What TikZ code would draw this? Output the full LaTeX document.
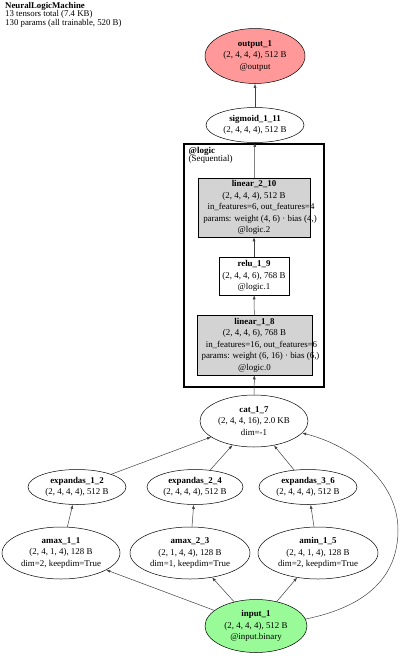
\documentclass[tikz,border=0pt]{standalone}
\usepackage{fontspec}
\setmainfont{Liberation Serif}
\usetikzlibrary{shapes.geometric,arrows.meta}
\definecolor{outred}{HTML}{FF9999}
\definecolor{ingreen}{HTML}{98FB98}
\definecolor{boxgray}{HTML}{D3D3D3}
\newcommand{\longline}[2]{\makebox[0pt][c]{\kern#1pt #2}}
\begin{document}
\begin{tikzpicture}[x=1pt,y=-1pt,
 nfont/.style={font=\fontsize{8.9}{11.5}\selectfont},
 ell/.style={ellipse,draw=black,line width=0.5pt,inner sep=0pt,align=center,nfont},
 boxn/.style={rectangle,draw=black,line width=0.5pt,inner sep=0pt,align=center,nfont},
 edge/.style={draw=black!75,line width=0.5pt,-{Latex[length=4pt,width=3pt]}},
]
\useasboundingbox (0,0) rectangle (400,656);
\node[anchor=north west,align=left,inner sep=0pt,font=\fontsize{8.8}{8.5}\selectfont] (title) at (5,2)
 {\textbf{NeuralLogicMachine}\\13 tensors total (7.4 KB)\\130 params (all trainable, 520 B)};

\node[draw=black,line width=2.5pt,minimum width=140pt,minimum height=243pt,inner sep=0pt] (cl) at (254,265.5) {};
\node[anchor=north west,align=left,inner sep=0pt,font=\fontsize{9}{8.5}\selectfont] (cllab) at (188.5,147)
 {\textbf{@logic}\\(Sequential)};

\node[ell,fill=outred,minimum width=100pt,minimum height=55pt] (out) at (255,56)
 {\textbf{output\_1}\\(2, 4, 4, 4), 512 B\\@output};
\node[ell,minimum width=98pt,minimum height=35pt] (sig) at (255,125)
 {\textbf{sigmoid\_1\_11}\\(2, 4, 4, 4), 512 B};
\node[boxn,fill=boxgray,minimum width=112pt,minimum height=59pt] (lin2) at (254,207.5)
 {\textbf{linear\_2\_10}\\(2, 4, 4, 4), 512 B\\\longline{14}{in\_features=6, out\_features=4}\\\longline{12}{params: weight (4, 6) · bias (4,)}\\@logic.2};
\node[boxn,minimum width=70pt,minimum height=38pt] (relu) at (254,276)
 {\textbf{relu\_1\_9}\\(2, 4, 4, 6), 768 B\\@logic.1};
\node[boxn,fill=boxgray,minimum width=115pt,minimum height=60pt] (lin1) at (254.5,345)
 {\textbf{linear\_1\_8}\\(2, 4, 4, 6), 768 B\\\longline{14}{in\_features=16, out\_features=6}\\\longline{12}{params: weight (6, 16) · bias (6,)}\\@logic.0};
\node[ell,minimum width=108pt,minimum height=52pt] (cat) at (254,421)
 {\textbf{cat\_1\_7}\\(2, 4, 4, 16), 2.0 KB\\dim=-1};
\node[ell,minimum width=98pt,minimum height=35pt] (exp1) at (77,487)
 {\textbf{expandas\_1\_2}\\(2, 4, 4, 4), 512 B};
\node[ell,minimum width=96pt,minimum height=35pt] (exp2) at (195,487)
 {\textbf{expandas\_2\_4}\\(2, 4, 4, 4), 512 B};
\node[ell,minimum width=98pt,minimum height=35pt] (exp3) at (308,487)
 {\textbf{expandas\_3\_6}\\(2, 4, 4, 4), 512 B};
\node[ell,minimum width=118pt,minimum height=52pt] (amax1) at (61,553)
 {\textbf{amax\_1\_1}\\(2, 4, 1, 4), 128 B\\dim=2, keepdim=True};
\node[ell,minimum width=120pt,minimum height=52pt] (amax2) at (190,553)
 {\textbf{amax\_2\_3}\\(2, 1, 4, 4), 128 B\\dim=1, keepdim=True};
\node[ell,minimum width=120pt,minimum height=52pt] (amin) at (318,553)
 {\textbf{amin\_1\_5}\\(2, 4, 1, 4), 128 B\\dim=2, keepdim=True};
\node[ell,fill=ingreen,minimum width=102pt,minimum height=53pt] (in) at (256,626)
 {\textbf{input\_1}\\(2, 4, 4, 4), 512 B\\@input.binary};

\draw[edge] (in) -- (amax1);
\draw[edge] (in) -- (amax2);
\draw[edge] (in) -- (amin);
\draw[edge] (amax1) -- (exp1);
\draw[edge] (amax2) -- (exp2);
\draw[edge] (amin) -- (exp3);
\draw[edge] (exp1) -- (cat);
\draw[edge] (exp2) -- (cat);
\draw[edge] (exp3) -- (cat);
\draw[edge] (cat) -- (lin1);
\draw[edge] (lin1) -- (relu);
\draw[edge] (relu) -- (lin2);
\draw[edge] (lin2) -- (sig);
\draw[edge] (sig) -- (out);
\draw[edge] (in.8) .. controls (375,605) and (398,570) .. (398,530)
 .. controls (398,480) and (350,445) .. (cat.-14);
\end{tikzpicture}
\end{document}
